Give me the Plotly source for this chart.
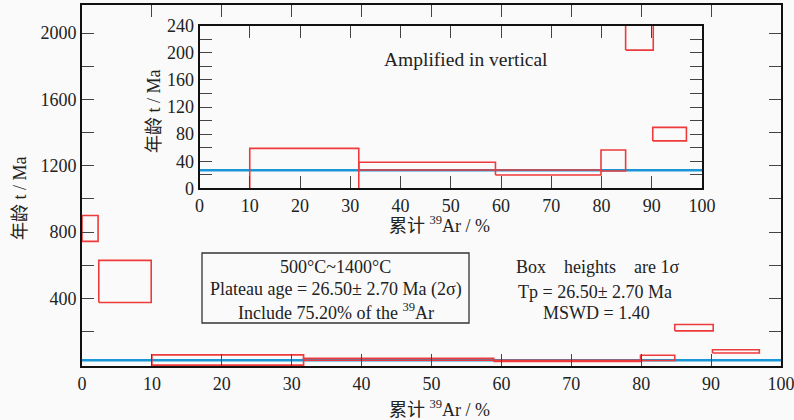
import plotly.graph_objects as go

# ---- data ----
step_start = [0.0, 2.4, 10.0, 31.7, 58.9, 79.9, 84.8, 90.2]
step_end = [2.3, 9.9, 31.7, 58.9, 79.9, 84.8, 90.3, 96.9]
step_age = [822.0, 502.0, 28.0, 32.7, 23.3, 41.0, 223.0, 80.0]
step_sigma = [78.0, 127.0, 31.0, 5.7, 3.7, 15.5, 19.0, 10.0]
plateau_age = 26.5
cum_range = [0, 100]

main_yticks = [200, 400, 600, 800, 1000, 1200, 1400, 1600, 1800, 2000]
main_yticktext = ["", "400", "", "800", "", "1200", "", "1600", "", "2000"]
xticks = [0, 10, 20, 30, 40, 50, 60, 70, 80, 90, 100]
inset_yticks = [0, 20, 40, 60, 80, 100, 120, 140, 160, 180, 200, 220, 240]
inset_yticktext = ["0", "", "40", "", "80", "", "120", "", "160", "", "200", "", "240"]

RED = "#ee3a3a"
BLUE = "#1996d6"
BG = "#fafafa"
FONT = "Liberation Serif, Noto Sans CJK SC, serif"

# plot area in pixels
L, R, T, B = 82, 781, 5, 366
W, H = 794, 420


def px(x):
    return (x - L) / (R - L)


def py(y):
    return (B - y) / (B - T)


def box_path(starts, ends, ages, sig):
    xs, ys = [], []
    for s, e, a, g in zip(starts, ends, ages, sig):
        lo, hi = a - g, a + g
        xs += [s, e, e, s, s, None]
        ys += [lo, lo, hi, hi, lo, None]
    return xs, ys


bx, by = box_path(step_start, step_end, step_age, step_sigma)

fig = go.Figure()
for xa, ya in (("x", "y"), ("x2", "y2")):
    fig.add_trace(go.Scatter(x=cum_range, y=[plateau_age, plateau_age], mode="lines",
                             line=dict(color=BLUE, width=2.5), xaxis=xa, yaxis=ya,
                             showlegend=False, hoverinfo="skip"))
    fig.add_trace(go.Scatter(x=bx, y=by, mode="lines", line=dict(color=RED, width=1.6),
                             xaxis=xa, yaxis=ya, showlegend=False, hoverinfo="skip"))

axis_common = dict(showline=True, linecolor="#111", linewidth=2, mirror="allticks",
                   ticks="inside", tickcolor="#444", tickwidth=1.3, showgrid=False,
                   zeroline=False, automargin=False, ticklabeloverflow="allow",
                   tickfont=dict(family=FONT, size=18, color="#222"))

x_title = "累计 <sup>39</sup>Ar / %"
y_title = "年龄 t / Ma"

fig.update_layout(
    width=W, height=H,
    margin=dict(l=L, r=W - R, t=T, b=H - B),
    paper_bgcolor=BG, plot_bgcolor=BG,
    font=dict(family=FONT, size=18, color="#222"),
    xaxis=dict(range=cum_range, tickvals=xticks, ticklen=12, **axis_common),
    yaxis=dict(range=[-8, 2170], tickvals=main_yticks, ticktext=main_yticktext,
               ticklen=12, **axis_common),
    xaxis2=dict(domain=[px(199.5), px(702)], anchor="y2", range=cum_range,
                tickvals=xticks, ticklen=12, **axis_common),
    yaxis2=dict(domain=[py(188.3), py(25.7)], anchor="x2", range=[0, 240],
                tickvals=inset_yticks, ticktext=inset_yticktext, ticklen=12,
                **axis_common),
)

# inset background
fig.add_shape(type="rect", xref="paper", yref="paper", x0=px(199.5), x1=px(702),
              y0=py(188.3), y1=py(25.7), fillcolor=BG, line=dict(width=0), layer="below")

# text box with border
fig.add_shape(type="rect", xref="paper", yref="paper", x0=px(202), x1=px(469),
              y0=py(323), y1=py(253), line=dict(color="#333", width=1.3), fillcolor=BG)

# axis titles
titles = [
    (x_title, 440, 408, 0),
    (x_title, 440, 224, 0),
    (y_title, 20, 198, -90),
    (y_title, 154, 111, -90),
]
for text, x, y, ang in titles:
    fig.add_annotation(text=text, xref="paper", yref="paper", x=px(x), y=py(y),
                       xanchor="center", yanchor="middle", showarrow=False, textangle=ang,
                       font=dict(family=FONT, size=18, color="#222"))

ann = [
    ("Amplified in vertical", 466, 59, 19.5),
    ("500°C~1400°C", 335.5, 267, 18),
    ("Plateau age = 26.50± 2.70 Ma (2σ)", 335.5, 289, 18),
    ("Include 75.20% of the <sup>39</sup>Ar", 335.5, 311, 18),
    ("Box    heights    are 1σ", 597, 267, 18),
    ("Tp = 26.50± 2.70 Ma", 595, 292, 18),
    ("MSWD = 1.40", 596, 313, 18),
]
for text, x, y, fs in ann:
    fig.add_annotation(text=text, xref="paper", yref="paper", x=px(x), y=py(y),
                       xanchor="center", yanchor="middle", showarrow=False,
                       font=dict(family=FONT, size=fs, color="#222"))

fig.write_html("out.html", config={"displayModeBar": False},
               post_script="document.body.style.margin='0px';")
